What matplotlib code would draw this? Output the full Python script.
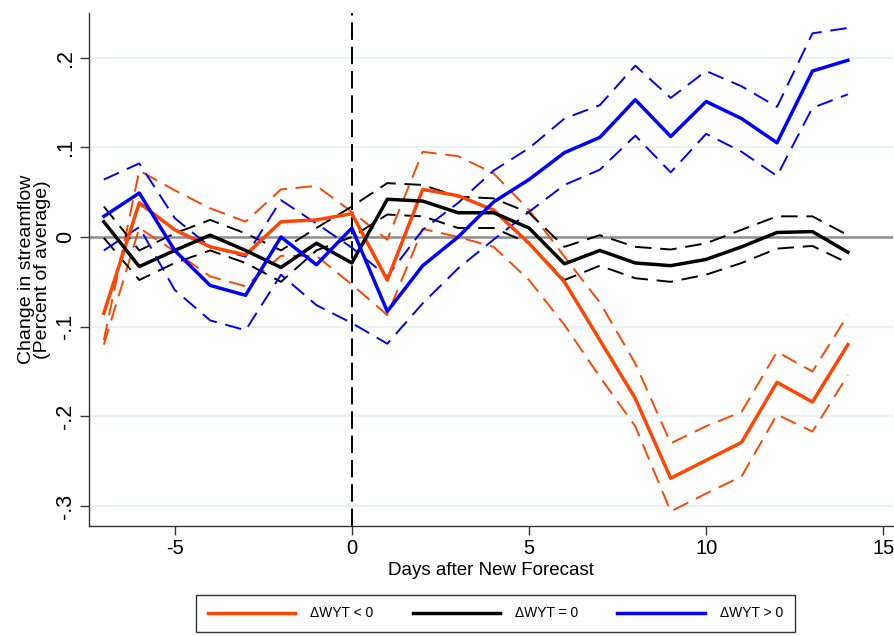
import matplotlib
matplotlib.use("Agg")
import matplotlib.pyplot as plt

plt.rcParams['font.family'] = ['Liberation Sans', 'DejaVu Sans']
plt.rcParams['axes.unicode_minus'] = False

days = list(range(-7, 15))

neg_main = [-0.085, 0.038, 0.008, -0.011, -0.020, 0.017, 0.019, 0.026, -0.048, 0.053, 0.046, 0.030,
            -0.007, -0.050, -0.115, -0.180, -0.269, -0.249, -0.229, -0.162, -0.184, -0.120]
neg_hi = [-0.115, 0.074, 0.052, 0.032, 0.017, 0.053, 0.057, 0.028, -0.003, 0.095, 0.090, 0.071,
          0.030, -0.022, -0.073, -0.141, -0.230, -0.211, -0.195, -0.128, -0.150, -0.087]
neg_lo = [-0.120, 0.010, -0.016, -0.044, -0.055, -0.021, -0.021, -0.053, -0.087, 0.009, 0.000, -0.011,
          -0.048, -0.098, -0.156, -0.211, -0.306, -0.286, -0.267, -0.198, -0.217, -0.154]

zero_main = [0.017, -0.033, -0.015, 0.002, -0.015, -0.034, -0.007, -0.029, 0.042, 0.040, 0.027, 0.027,
             0.010, -0.030, -0.015, -0.029, -0.032, -0.025, -0.011, 0.005, 0.006, -0.017]
zero_hi = [0.034, -0.015, 0.004, 0.019, 0.004, -0.015, 0.010, 0.034, 0.060, 0.058, 0.045, 0.043,
           0.027, -0.011, 0.002, -0.011, -0.014, -0.007, 0.008, 0.023, 0.023, 0.002]
zero_lo = [-0.001, -0.048, -0.029, -0.015, -0.029, -0.050, -0.015, 0.000, 0.025, 0.023, 0.010, 0.010,
           -0.007, -0.048, -0.032, -0.046, -0.050, -0.042, -0.029, -0.013, -0.010, -0.029]

pos_main = [0.023, 0.049, -0.015, -0.054, -0.065, 0.000, -0.031, 0.010, -0.083, -0.032, 0.000, 0.039,
            0.064, 0.094, 0.111, 0.153, 0.112, 0.151, 0.132, 0.105, 0.185, 0.197]
pos_hi = [0.064, 0.082, 0.021, -0.011, -0.022, 0.041, 0.015, -0.012, -0.044, 0.008, 0.038, 0.074,
          0.099, 0.132, 0.147, 0.191, 0.155, 0.185, 0.168, 0.145, 0.227, 0.233]
pos_lo = [-0.015, 0.011, -0.059, -0.093, -0.104, -0.042, -0.076, -0.096, -0.119, -0.074, -0.035, -0.003,
          0.028, 0.058, 0.075, 0.113, 0.072, 0.115, 0.095, 0.068, 0.144, 0.159]

labels = ['\u0394WYT < 0', '\u0394WYT = 0', '\u0394WYT > 0']
colors = ['#FF4500', '#000000', '#0000FF']

yticks = [0.2, 0.1, 0.0, -0.1, -0.2, -0.3]
yticklabels = ['.2', '.1', '0', '-.1', '-.2', '-.3']
xticks = [-5, 0, 5, 10, 15]

fig = plt.figure(figsize=(8.95, 6.37), dpi=100)
ax = fig.add_axes([0.0994, 0.1743, 0.8986, 0.8053])

for yv in yticks:
    if yv != 0:
        ax.axhline(yv, color='#eaf2f3', lw=1.6, zorder=0)
ax.axhline(0, color='#8c8c8c', lw=1.8, zorder=1)
ax.axvline(0, color='black', lw=1.4, ls=(0, (9, 3.5)), zorder=1)

series = [(neg_main, neg_hi, neg_lo), (zero_main, zero_hi, zero_lo), (pos_main, pos_hi, pos_lo)]
handles = []
for (m, hi, lo), c, lab in zip(series, colors, labels):
    for b in (hi, lo):
        ax.plot(days, b, color=c, lw=1.4, ls=(0, (8.5, 4.5)), zorder=2)
    h, = ax.plot(days, m, color=c, lw=2.5, zorder=3, label=lab)
    handles.append(h)

ax.set_xlim(-7.42, 15.28)
ax.set_ylim(-0.3222, 0.2497)
ax.set_xticks(xticks)
ax.set_xticklabels([str(v) for v in xticks], fontsize=14.5)
ax.set_yticks(yticks)
ax.set_yticklabels(yticklabels, rotation=90, va='center', fontsize=15.5)
ax.tick_params(axis='both', length=6.5, width=1, direction='out', color='#333333', pad=3)
for s in ['top', 'right']:
    ax.spines[s].set_visible(False)
for s in ['left', 'bottom']:
    ax.spines[s].set_color('#333333')
    ax.spines[s].set_linewidth(1.0)

ax.set_xlabel('Days after New Forecast', fontsize=13.5, labelpad=3)
ax.set_ylabel('Change in streamflow\n(Percent of average)', fontsize=14, labelpad=3, linespacing=0.92)

leg = fig.legend(handles=handles, labels=labels, loc='center', bbox_to_anchor=(0.5536, 0.037),
                 ncol=3, fontsize=10, frameon=True, fancybox=False, edgecolor='black',
                 handlelength=6.3, handletextpad=1.08, columnspacing=2.8, borderpad=0.85,
                 borderaxespad=0)
leg.get_frame().set_linewidth(1.0)

fig.savefig('out.png', dpi=100)
